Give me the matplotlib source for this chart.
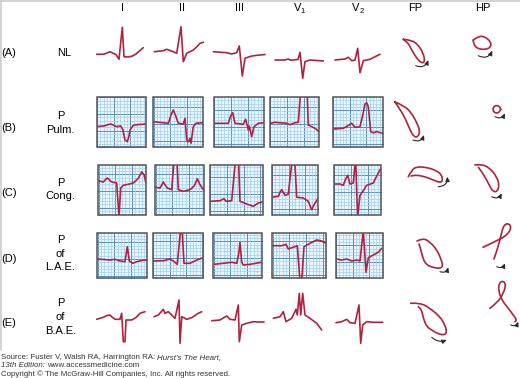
import numpy as np
import matplotlib.pyplot as plt
from matplotlib.patches import Rectangle, FancyArrowPatch, PathPatch
from matplotlib.path import Path

plt.rcParams['font.family'] = ['Liberation Sans', 'DejaVu Sans']

# ---- text ----
lead_names = ['I', 'II', 'III', 'V', 'V', 'FP', 'HP']
lead_subs = ['', '', '', '1', '2', '', '']
row_tags = ['(A)', '(B)', '(C)', '(D)', '(E)']
row_names = [['NL'], ['P', 'Pulm.'], ['P', 'Cong.'], ['P', 'of', 'L.A.E.'], ['P', 'of', 'B.A.E.']]
footer = [
    [("Source: Fuster V, Walsh RA, Harrington RA:", 'normal'), ("Hurst's The Heart,", 'italic')],
    [("13th Edition:", 'italic'), ("www.accessmedicine.com", 'normal')],
    [("Copyright \u00a9 The McGraw-Hill Companies, Inc. All rights reserved.", 'normal')],
]

# ---- ECG traces, (time offset, amplitude offset) in px inside each cell ----
ecg_A = [
    [(0.7, 24.3), (8, 24.2), (11, 23), (14, 21.7), (17, 23.2), (20, 24.5), (23, 29.3), (26.3, -2.7), (28, 26.7),
     (32, 27), (36, 26.2), (40, 24), (44, 20.5), (47.3, 17.7)],
    [(0.3, 21.7), (9.3, 20.7), (12.7, 19.3), (16, 20.5), (19.3, 21.7), (22.7, 23.3), (27, -3.3), (29.3, 31.7),
     (32.7, 23.3), (39.3, 20), (43, 16.5), (46, 13.3), (49.3, 12.3)],
    [(0.3, 21.7), (13.7, 22.7), (18.7, 24), (23.7, 22.7), (26.3, 16), (29.3, 46), (32, 28.3), (37, 26.5),
     (42, 25.5), (47, 25), (52, 24.5)],
    [(1, 30), (11, 30), (14, 29), (17, 30.2), (24, 29.5), (26, 22.3), (28.7, 48.3), (31, 31.7), (36, 30), (49.3, 31)],
    [(0, 30), (10, 29), (13.3, 27.3), (16.7, 30.7), (20, 30), (22.7, 18.3), (25, 42.7), (28.3, 30.7), (35, 29.3),
     (40, 26.7), (45, 24.3)],
]
ecg_B = [
    [(0, 29.4), (7, 28.7), (11, 27.5), (14, 26.7), (17, 28), (20, 29.4), (24, 28.7), (26, 32), (28.3, 42.7),
     (30.6, 44.4), (32, 40), (33.3, 32.7), (36.6, 28), (42, 27.2), (49.3, 26.7)],
    [(0, 24.4), (15, 26), (17.7, 17.7), (20, 12.7), (22.7, 19.4), (25, 26), (30, 26.7), (31.7, 21), (33.4, 42.7),
     (35.4, 44.4), (36.7, 41), (37.7, 46), (40, 29.4), (42.7, 26), (50, 25.4)],
    [(0, 26), (14.3, 26), (16.5, 19), (18.7, 15.4), (21, 26), (29.3, 27), (31.7, 22), (34.3, 32.7), (35.3, 28.7),
     (37.7, 39.4), (40, 29.4), (44.3, 26), (50, 25.4)],
    [(0.7, 26), (5, 25), (10, 25.5), (16.7, 26), (20, 27.4), (25, 25.4), (28.3, 25), (31, -10), (34, -14), (37, -10),
     (38.3, 27.7), (41.7, 29.4), (45, 31), (49.3, 34.4)],
    [(0.6, 31.7), (10.6, 31), (15, 28.5), (19, 26), (22.3, 30), (27.3, 29.4), (30, 18), (32.3, 6.7), (34, 5.4),
     (35.6, 9.4), (38, 34.4), (40.6, 35.4), (44, 34.4), (50, 36)],
]
ecg_C = [
    [(0, 15.4), (5, 16.7), (7, 14.5), (9, 12.7), (11, 14.5), (13.4, 16.7), (18.4, 17.7), (20.7, 52), (22.4, 22.7),
     (25, 20), (30, 19), (35, 17.7), (40, 13), (43.4, 6.7), (45.7, 9.4), (47.7, 17.7)],
    [(0, 22), (4.7, 22.7), (6.5, 19.5), (8, 16.7), (10, 20), (12, 22.7), (16.4, 24.4), (19, -8), (21.5, -8), (23, 24.4),
     (28, 26), (34.7, 24.4), (39, 20.5), (42, 13.4), (44.7, 19.4), (48, 24.4)],
    [(0.7, 36), (10, 35.4), (14, 33.4), (16, 36), (21.7, 35.4), (25.5, -6), (28.5, -6), (30, 36), (36.7, 38.7),
     (43.3, 41), (48.3, 37.7), (52.7, 36.7)],
    [(0, 32), (6.6, 31), (8.3, 27), (10, 24.4), (13.3, 30), (16.6, 28.7), (20.5, -6), (23, -6), (25, 32), (31.6, 32.7),
     (36.6, 36), (40, 44.4), (42.3, 39.4), (46.6, 32.7)],
    [(1, 18.7), (6, 18.7), (9.3, 20), (11.5, 14), (13.7, 10), (16, 18.7), (19.3, 17.7), (21.6, -8), (23.6, 52),
     (26, 30), (27.7, 27.7), (32.7, 20), (39.3, 17.7), (44.3, 7.7), (46.7, 3.4)],
]
ecg_D = [
    [(0, 25.7), (12.7, 26.7), (17.7, 26), (22, 27.5), (27.7, 28.4), (30, 13.4), (32, 27.7), (35.4, 30), (39.4, 28.4),
     (44, 27.2), (50, 26.7)],
    [(0.6, 27.7), (10.6, 27.4), (17.3, 25.7), (20.6, 27.7), (24.6, 31), (28, -5), (29.3, -5), (31.3, 30), (37.3, 30),
     (44, 26.7), (50.6, 24.4)],
    [(0.7, 31), (10, 30), (18.4, 29), (23.4, 30), (25.5, 20), (26.7, 9), (28.4, 29), (30, 31.7), (36.7, 31),
     (48.4, 29)],
    [(0.4, 12.4), (9.4, 12.4), (13.7, 11), (16, 15.7), (19.4, 14.4), (22.7, 13.4), (25, 12.4), (27.7, 48), (29.4, 48),
     (31.7, 13.4), (37.7, 10), (44.4, 6.7), (49.4, 7.7), (53.7, 10)],
    [(0.3, 25.7), (6, 26.7), (11, 25.7), (16, 27.7), (21, 26.7), (24.3, 27.7), (27.6, -3), (30.3, 39), (32.6, 24.4),
     (37.6, 21.7), (42.6, 19), (46, 15)],
]
ecg_E = [
    [(0.7, 23.3), (7.3, 21.3), (11, 19.5), (14, 19), (16, 21), (19, 23.3), (24, 23.3), (25.7, 17.3), (27.3, 45.7),
     (29, 45.7), (30, 24), (35.7, 24), (40, 21.5), (44, 17.3), (49, 15.7)],
    [(1, 20.7), (5.3, 19), (8, 16), (10.3, 13.3), (12, 17.3), (15.3, 15.7), (18.7, 19), (22, 22.3), (26, 4), (27, 47.3),
     (28.7, 20.7), (33.7, 23.3), (39, 21.5), (45.3, 17.3), (48.7, 15.7)],
    [(0.7, 24.7), (9, 24), (13, 21.5), (15.7, 20), (19, 23.3), (24, 24), (27.3, 9), (28.3, 45.7), (30.7, 29),
     (35.7, 27.3), (42.3, 25.7), (47, 26), (53, 26)],
    [(0.3, 22.3), (7, 20.7), (10.3, 15.7), (13, 25.7), (18.7, 22.3), (23, 13.3), (24.3, 19), (26.3, -2.7), (27.7, 19),
     (29.7, -2.7), (32, 19), (37, 22.3), (43.7, 27.3), (48.7, 34)],
    [(1, 26.7), (6.7, 25.7), (11.7, 23.3), (15, 26.7), (20, 27.3), (24, 9), (25.7, 47.3), (27.7, 29), (31.7, 25.7),
     (38.3, 26.3), (47.7, 26.3)],
]

# ---- vector loops (frontal / horizontal plane), offsets from column/row centre ----
fp_loops = [
    [(-10.7, -12.7), (-2.3, -12), (4.3, -7), (9.3, 1.3), (11, 9.7), (7.7, 11.3), (2.7, 6.3), (-2.3, -2), (-5.7, -8.7),
     (-9, -11.3), (-10.7, -12.7)],
    [(-19, -20), (-9, -16), (-2, -8), (3, 1), (6, 9), (4, 15), (0, 15), (-4, 8), (-8, -2), (-13, -11), (-17, -17),
     (-19, -20)],
    [(-5.7, -13.3), (-2.3, -20), (2.7, -23.3), (12.7, -22.7), (22.7, -19.3), (27.7, -15), (28.7, -9.3), (26, -7.3),
     (19.3, -10), (11, -13.3), (2.7, -15), (-3, -14)],
    [(3, -15), (9, -18), (16, -14), (23, -6), (27, 3), (29, 10), (26, 12.5), (19, 11.5), (12.7, 9), (9, 3), (7, -6),
     (5, -12)],
    [(-3.3, -17.7), (6, -18.3), (16, -12.7), (26, -4.3), (31, 4), (32.7, 10.7), (31, 14), (24.3, 13), (17.7, 9),
     (12.7, 5.7), (9.3, -2.7), (7.7, -11), (4.3, -14.3)],
]
fp_arrows = [((1.7, 13.7), (14.3, 8)), ((-1, 18), (10, 13)), ((24.3, -3.3), (33.3, -13.3)),
             ((26, 15.7), (34.3, 11.3)), ((17.7, 16.3), (32.7, 19))]
hp_loops = [
    [(-8.7, -12), (-3.7, -16), (3, -15.3), (8.7, -10.3), (9, -5.3), (4.7, -2.7), (-2, -2.7), (-7, -5.3),
     (-8.7, -10.3), (-8.7, -12)],
    [(18.7, -12.7), (17.5, -9.9), (14.7, -8.7), (11.9, -9.9), (10.7, -12.7), (11.9, -15.5), (14.7, -16.7),
     (17.5, -15.5), (18.7, -12.7)],
    [(-7, -25), (-0.3, -26), (8, -21.7), (14.7, -13.3), (17.3, -5), (15.3, 1.7), (11.3, 1.7), (8, -3.3), (4.7, -10),
     (-0.3, -18.3), (-3.7, -22.7)],
    [(1, -8.7), (8, -12), (16, -16), (23, -19.5), (28, -25), (29, -30), (26, -32.7), (22, -31), (20, -25), (18, -16),
     (15, -6), (13, 0), (12, 3)],
    [(8, -12.7), (16.3, -19.3), (21.3, -27.7), (24, -36), (21.3, -40.3), (17.3, -38.3), (16.3, -31), (19.7, -21),
     (26.3, -12.7), (31.3, -6), (34.7, -1), (33, 0.7)],
]
hp_arrows = [((-3.7, 3.7), (10.3, -1.3)), ((13, -5.3), (23, -8.7)), ((9.7, 6.7), (19.7, 3.3)),
             ((14.7, 10.7), (23, 7.3)), ((28.7, 4), (36.3, 0.7))]

# ---- layout (pixels) ----
W, H = 520, 378
RED = '#b0223f'
LABEL_SIZE = 8
header_x = [122.7, 182.5, 240, 297.5, 355.8, 414.7, 482.5]
sub_x = [0, 0, 0, 302.3, 361.3, 0, 0]
lefts_A, top_A = [96, 154, 213, 274, 335], 30
lefts_E, top_E = [96, 153, 211, 273, 335], 296
boxes = [  # lefts, rights, top, bottom, y grid phases
    ([96.7, 153.3, 214, 270, 332.7], [146, 203.3, 264, 319, 382.7], 97.3, 147.3, [16.7, 10, 13, 10, 13]),
    ([98.3, 155.3, 210, 271.7, 334], [146, 204, 262.7, 318.3, 380.7], 165.3, 214.7, [9, 9, 12, 10, 10]),
    ([97.3, 152.7, 213.3, 272.3, 335.7], [147.3, 203.3, 261.7, 326, 382.7], 233.3, 278.3, [9, 8, 8, 8, 12]),
]
row_y = [52, 122, 190, 256, 321]
fp_x, hp_x = 414, 482
tag_base = [56, 131, 196, 262.5, 326]
name_base = [[56], [118.8, 132.8], [185.5, 199], [242.8, 256.8, 270.5], [305.5, 319.8, 333.5]]
name_x = [64.5, 60.5, 60.5, 60.5, 60.5]

fig = plt.figure(figsize=(W / 100, H / 100), dpi=100)
ax = fig.add_axes([0, 0, 1, 1])
ax.set_xlim(0, W)
ax.set_ylim(H, 0)
ax.axis('off')

# light frame on left and top
ax.plot([0.6, 0.6], [0, 350], color='#c8c8c8', lw=1.1)
ax.plot([0, W], [0.6, 0.6], color='#c8c8c8', lw=1.1)


def trace(x0, y0, pts, clip=None):
    p = np.array(pts, float)
    ln, = ax.plot(x0 + p[:, 0], y0 + p[:, 1], color=RED, lw=1.2, solid_joinstyle='round',
                  solid_capstyle='round', zorder=3)
    if clip is not None:
        ln.set_clip_path(clip)


def grid_box(x0, x1, y0, y1, yph):
    bg = Rectangle((x0, y0), x1 - x0, y1 - y0, facecolor='#eaf5fd', edgecolor='none', zorder=1)
    ax.add_patch(bg)
    step = 16.6 / 5
    for k in range(-10, 30):
        x = x0 + 17 + k * step
        if x0 < x < x1:
            major = k % 5 == 0
            ax.plot([x, x], [y0, y1], color='#5a8ec0' if major else '#9fd1f2',
                    lw=0.7 if major else 0.5, zorder=2, clip_path=bg)
        y = y0 + yph + k * step
        if y0 < y < y1:
            major = k % 5 == 0
            ax.plot([x0, x1], [y, y], color='#5a8ec0' if major else '#9fd1f2',
                    lw=0.7 if major else 0.5, zorder=2, clip_path=bg)
    ax.add_patch(Rectangle((x0, y0), x1 - x0, y1 - y0, fill=False, edgecolor='#555555', lw=1.1, zorder=4))
    return bg


def loop(cx, cy, pts):
    p = np.array(pts, float) + [cx, cy]
    verts, codes = [p[0]], [Path.MOVETO]
    for i in range(1, len(p) - 1):
        verts += [p[i], (p[i] + p[i + 1]) / 2]
        codes += [Path.CURVE3, Path.CURVE3]
    verts.append(p[-1])
    codes.append(Path.LINETO)
    ax.add_patch(PathPatch(Path(verts, codes), fill=False, edgecolor=RED, lw=1.2, zorder=3,
                           capstyle='round', joinstyle='round'))


def arrow(cx, cy, a, b, rad=0.5):
    ax.add_patch(FancyArrowPatch((cx + a[0], cy + a[1]), (cx + b[0], cy + b[1]),
                                 connectionstyle=f'arc3,rad={rad}',
                                 arrowstyle='-|>,head_length=2.6,head_width=1.2',
                                 mutation_scale=1, lw=0.8, color='#2a2a2a', shrinkA=0, shrinkB=0, zorder=3))


# headers
for name, sub, x, sx in zip(lead_names, lead_subs, header_x, sub_x):
    ax.text(x, 11, name, fontsize=LABEL_SIZE, ha='center', va='baseline')
    if sub:
        ax.text(sx, 13.2, sub, fontsize=5.5, ha='center', va='baseline')

# row labels
for tag, tb, names, nb, nx in zip(row_tags, tag_base, row_names, name_base, name_x):
    ax.text(0.8, tb, tag, fontsize=LABEL_SIZE, ha='left', va='baseline')
    for s, b in zip(names, nb):
        ax.text(nx, b, s, fontsize=LABEL_SIZE, ha='center', va='baseline')

# ECG rows
for left, pts in zip(lefts_A, ecg_A):
    trace(left, top_A, pts)
for (lefts, rights, top, bottom, phs), row in zip(boxes, [ecg_B, ecg_C, ecg_D]):
    for l, r, ph, pts in zip(lefts, rights, phs, row):
        bg = grid_box(l, r, top, bottom, ph)
        trace(l, top, pts, clip=bg)
for left, pts in zip(lefts_E, ecg_E):
    trace(left, top_E, pts)

# vector loops
for y, lp, ar in zip(row_y, fp_loops, fp_arrows):
    loop(fp_x, y, lp)
    arrow(fp_x, y, *ar, rad=0.3 if y == row_y[-1] else 0.5)
for y, lp, ar in zip(row_y, hp_loops, hp_arrows):
    loop(hp_x, y, lp)
    arrow(hp_x, y, *ar)

# footer, sized to the source line width
fig.canvas.draw()
rend = fig.canvas.get_renderer()
probe = ax.text(0, 0, footer[2][0][0], fontsize=6)
fsize = 6 * 230 / probe.get_window_extent(rend).width
probe.remove()
for line, base in zip(footer, [359.3, 367.3, 376.5]):
    x = 1
    for s, style in line:
        t = ax.text(x, base, s, fontsize=fsize, style=style, ha='left', va='baseline', color='#333333')
        x += t.get_window_extent(rend).width + fsize * 1.39 * 0.28

fig.savefig('out.png', dpi=100)
